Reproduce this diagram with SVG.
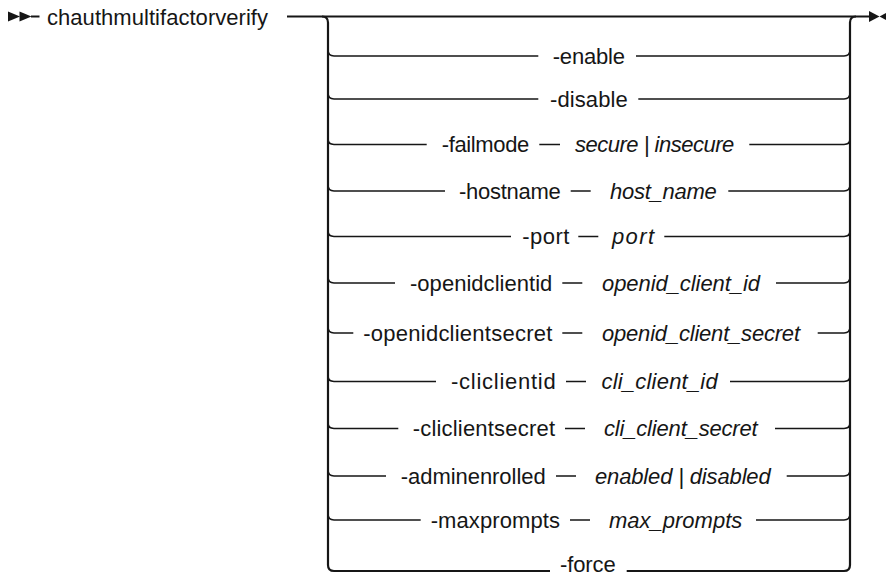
<svg xmlns="http://www.w3.org/2000/svg" width="886" height="577" viewBox="0 0 886 577">
<style>
.ln{fill:none;stroke:#161616;stroke-width:1.6;stroke-linecap:butt}
.main{fill:none;stroke:#161616;stroke-width:2}
.vt{fill:none;stroke:#161616;stroke-width:2.2}
.kw{font-family:"Liberation Sans",Arial,sans-serif;font-size:22px;fill:#161616}
.var{font-family:"Liberation Sans",Arial,sans-serif;font-size:22px;font-style:italic;fill:#161616}
.mk{fill:#161616}
</style>
<rect width="886" height="577" fill="#ffffff"/>
<g id="connectors">
<polygon class="mk" points="8,11.5 20,16.5 8,21.5"/>
<polygon class="mk" points="19.5,11.5 31.5,16.5 19.5,21.5"/>
<path class="main" d="M31,16.5 H39.5"/>
<path class="main" d="M287,16.5 H871"/>
<polygon class="mk" points="869,11 879.5,16.5 869,22"/>
<polygon class="mk" points="879.5,16.5 890,11 890,22"/>
<path class="vt" d="M322,16.5 Q328,16.5 328,22.5 V565 Q328,571 334,571 H550"/>
<path class="vt" d="M626.7,571 H844 Q850,571 850,565 V22.5 Q850,16.5 856,16.5"/>
<path class="ln" d="M328,50 Q328,56 334,56 H538.3 M636,56 H844 Q850,56 850,50"/>
<path class="ln" d="M328,93 Q328,99 334,99 H538.3 M638.3,99 H844 Q850,99 850,93"/>
<path class="ln" d="M328,138.5 Q328,144.5 334,144.5 H426.7 M539.3,144.5 H560 M749.3,144.5 H844 Q850,144.5 850,138.5"/>
<path class="ln" d="M328,185 Q328,191 334,191 H445 M570.7,191 H590.7 M728.3,191 H844 Q850,191 850,185"/>
<path class="ln" d="M328,230.5 Q328,236.5 334,236.5 H511 M578.3,236.5 H598.3 M664.3,236.5 H844 Q850,236.5 850,230.5"/>
<path class="ln" d="M328,277 Q328,283 334,283 H395 M562.3,283 H582.3 M776,283 H844 Q850,283 850,277"/>
<path class="ln" d="M328,327 Q328,333 334,333 H353.3 M562.3,333 H582.3 M817.7,333 H844 Q850,333 850,327"/>
<path class="ln" d="M328,375.5 Q328,381.5 334,381.5 H436 M566,381.5 H586 M730,381.5 H844 Q850,381.5 850,375.5"/>
<path class="ln" d="M328,422.5 Q328,428.5 334,428.5 H398.3 M565,428.5 H585 M775,428.5 H844 Q850,428.5 850,422.5"/>
<path class="ln" d="M328,470 Q328,476 334,476 H386 M556,476 H576 M786.7,476 H844 Q850,476 850,470"/>
<path class="ln" d="M328,514 Q328,520 334,520 H420.7 M570,520 H590 M756,520 H844 Q850,520 850,514"/>
</g>
<g id="cmd"><text class="kw" x="47" y="24.5" textLength="221">chauthmultifactorverify</text></g>
<g id="enable"><text class="kw" x="552.7" y="63.5" textLength="72.3">-enable</text></g>
<g id="disable"><text class="kw" x="550" y="106.5" textLength="77.7">-disable</text></g>
<g id="failmode"><text class="kw" x="441.7" y="152" textLength="87.6">-failmode</text><text class="var" x="575" y="152" textLength="159.3">secure | insecure</text></g>
<g id="hostname"><text class="kw" x="459" y="198.5" textLength="101.7">-hostname</text><text class="var" x="610" y="198.5" textLength="106.7">host_name</text></g>
<g id="port"><text class="kw" x="522.3" y="244" textLength="47">-port</text><text class="var" x="612" y="244" textLength="42">port</text></g>
<g id="openidclientid"><text class="kw" x="410" y="290.5" textLength="142.3">-openidclientid</text><text class="var" x="602" y="290.5" textLength="158">openid_client_id</text></g>
<g id="openidclientsecret"><text class="kw" x="363.3" y="340.5" textLength="189">-openidclientsecret</text><text class="var" x="602" y="340.5" textLength="198">openid_client_secret</text></g>
<g id="cliclientid"><text class="kw" x="451" y="389" textLength="104.7">-cliclientid</text><text class="var" x="601.5" y="389" textLength="116.2">cli_client_id</text></g>
<g id="cliclientsecret"><text class="kw" x="412.7" y="436" textLength="142.3">-cliclientsecret</text><text class="var" x="604" y="436" textLength="153.7">cli_client_secret</text></g>
<g id="adminenrolled"><text class="kw" x="400.7" y="483.5" textLength="145">-adminenrolled</text><text class="var" x="595" y="483.5" textLength="175.7">enabled | disabled</text></g>
<g id="maxprompts"><text class="kw" x="430.7" y="527.5" textLength="129.3">-maxprompts</text><text class="var" x="609" y="527.5" textLength="133.3">max_prompts</text></g>
<g id="force"><text class="kw" x="560" y="571.5" textLength="55.7">-force</text></g>
</svg>
